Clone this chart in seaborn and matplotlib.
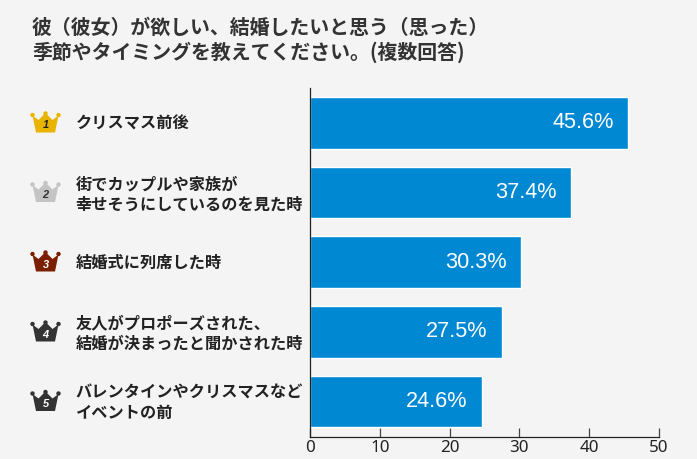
import matplotlib
matplotlib.use("Agg")
import matplotlib.pyplot as plt
from matplotlib.patches import Polygon, Circle
import seaborn as sns
import pandas as pd

title_line1 = "彼（彼女）が欲しい、結婚したいと思う（思った）"
title_line2 = "季節やタイミングを教えてください。(複数回答)"
categories = ["クリスマス前後", "街でカップルや家族が\n幸せそうにしているのを見た時", "結婚式に列席した時",
              "友人がプロポーズされた、\n結婚が決まったと聞かされた時", "バレンタインやクリスマスなど\nイベントの前"]
values = [45.6, 37.4, 30.3, 27.5, 24.6]
ranks = ["1", "2", "3", "4", "5"]
crown_colors = ["#e9b400", "#c4c4c4", "#7a1f00", "#333333", "#333333"]
rank_colors = ["#222222", "#333333", "#ffffff", "#ffffff", "#ffffff"]
ticks = [0, 10, 20, 30, 40, 50]

W, H = 697, 459
BG = "#f4f4f4"
sns.set_theme(style="white")
plt.rcParams["font.family"] = ["Noto Sans CJK JP", "DejaVu Sans"]
fig = plt.figure(figsize=(W / 100, H / 100), dpi=100, facecolor=BG)
px = lambda n: n * 72 / 100

ax = fig.add_axes([310 / W, 1 - 436.5 / H, (658.8 - 310) / W, (436.5 - 88) / H], facecolor=BG)
df = pd.DataFrame({"cat": categories, "val": values})
sns.barplot(data=df, x="val", y="cat", orient="h", color="#0088d2", saturation=1, width=0.74, ax=ax)
ax.set_xlim(0, 50)
ax.set_xticks(ticks)
ax.set_xticklabels([str(t) for t in ticks], fontsize=px(17), color="#222222", family=["Noto Sans"])
ax.set_xlabel("")
ax.set_ylabel("")
ax.set_yticks([])
for s in ("top", "right"):
    ax.spines[s].set_visible(False)
for s in ("left", "bottom"):
    ax.spines[s].set_color("#222222")
    ax.spines[s].set_linewidth(0.9)
ax.tick_params(axis="x", direction="in", length=px(9), width=0.9, color="#444444", pad=px(3), bottom=True)

for i, v in enumerate(values):
    ax.annotate(f"{v}%", (v, i), xytext=(-px(14.5), 0), textcoords="offset points", ha="right", va="center",
                color="white", fontsize=px(21.6), family=["Liberation Sans"])

ov = fig.add_axes([0, 0, 1, 1], facecolor="none")
ov.set_xlim(0, W)
ov.set_ylim(H, 0)
ov.axis("off")
crown = [(-13, -8), (-7, -3.5), (-1.5, -9), (1.5, -9), (7, -3.5), (13, -8), (9.5, 9), (-9.5, 9)]
row_y = [123.5, 193, 262.5, 332.5, 402]
label_y = [124, 194.5, 263, 333.5, 402.5]
for y, ly, lab, r, cc, rc in zip(row_y, label_y, categories, ranks, crown_colors, rank_colors):
    cx = 45.5
    ov.add_patch(Polygon([(cx + a, y + b) for a, b in crown], closed=True, fc=cc, ec="none"))
    for dx, dy in ((-13, -8.5), (0, -10), (13, -8.5)):
        ov.add_patch(Circle((cx + dx, y + dy), 2.2, fc=cc, ec="none"))
    ov.text(cx, y + 2, r, ha="center", va="center", fontsize=px(11), fontweight="bold", style="italic",
            color=rc, family=["Liberation Sans"])
    ov.text(75.5, ly, lab, ha="left", va="center", fontsize=px(16.2), fontweight="bold", color="#222222",
            linespacing=1.32)

ov.text(32, 27, title_line1, ha="left", va="center", fontsize=px(19.9), fontweight="bold", color="#333333")
ov.text(32, 52, title_line2, ha="left", va="center", fontsize=px(19.9), fontweight="bold", color="#333333")

fig.savefig("out.png", dpi=100, facecolor=BG)
